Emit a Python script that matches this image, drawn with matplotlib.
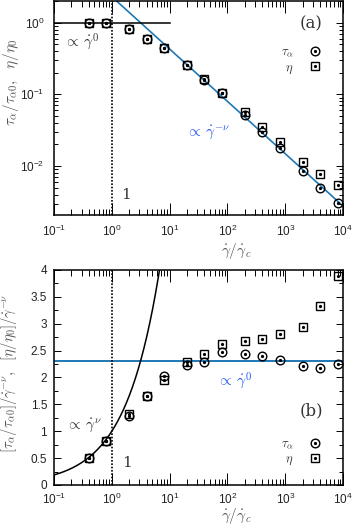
import numpy as np
import matplotlib
matplotlib.use("Agg")
import matplotlib.pyplot as plt
from matplotlib.ticker import LogLocator, MultipleLocator, NullFormatter

plt.rcParams['font.family'] = ['Liberation Sans', 'DejaVu Sans']
plt.rcParams['mathtext.fontset'] = 'custom'
plt.rcParams['mathtext.rm'] = 'Liberation Sans'
plt.rcParams['mathtext.it'] = 'Liberation Sans:italic'

# ---------------- data ----------------
rate = [0.4, 0.8, 2, 4, 8, 20, 40, 80, 200, 400, 800, 2000, 4000, 8000]
tau_a = [1.0, 1.0, 0.81, 0.60, 0.44, 0.257, 0.158, 0.103, 0.051, 0.030, 0.018, 0.0086, 0.0050, 0.0031]
eta_a = [1.0, 1.0, 0.81, 0.60, 0.44, 0.257, 0.162, 0.106, 0.057, 0.035, 0.0217, 0.0114, 0.0077, 0.0055]
tau_b = [0.50, 0.825, 1.28, 1.66, 2.02, 2.23, 2.29, 2.48, 2.44, 2.39, 2.33, 2.22, 2.17, 2.245]
eta_b = [0.50, 0.825, 1.32, 1.66, 1.95, 2.29, 2.44, 2.62, 2.67, 2.71, 2.80, 2.93, 3.33, 3.89]
nu = 0.73
amp = 2.3
x_line = np.logspace(-1, 4, 200)

BLUE = '#1f78b4'
LBLUE = '#2255ee'
GRAY = '#555555'
DARK = '#333333'

fig = plt.figure(figsize=(3.53, 5.26), dpi=100)
axA = fig.add_axes([0.153, 0.591, 0.819, 0.407])
axB = fig.add_axes([0.153, 0.078, 0.819, 0.409])

mk = dict(ls='none', color='k', mfc='none', mew=1.0)


def draw_points(ax, y1, y2):
    c, = ax.plot(rate, y1, marker='o', ms=6.2, **mk)
    s, = ax.plot(rate, y2, marker='s', ms=6.2, **mk)
    d1, = ax.plot(rate, y1, ls='none', marker='o', ms=1.3, color='k')
    d2, = ax.plot(rate, y2, ls='none', marker='o', ms=1.3, color='k')
    return (c, d1), (s, d2)


def style(ax, label_y, xpad):
    ax.set_xscale('log')
    ax.set_xlim(0.1, 1e4)
    ax.xaxis.set_major_locator(LogLocator(base=10, numticks=10))
    ax.xaxis.set_minor_locator(LogLocator(base=10, subs=np.arange(2, 10), numticks=20))
    ax.xaxis.set_minor_formatter(NullFormatter())
    ax.tick_params(axis='x', which='major', direction='in', top=True, length=8.5, width=0.7,
                   labelsize=8.5, pad=xpad, labelcolor='#222222')
    ax.tick_params(axis='x', which='minor', direction='in', top=True, length=4.3, width=0.7)
    ax.tick_params(axis='y', which='major', direction='in', right=True, length=5, width=0.7,
                   labelsize=8.5, labelcolor='#222222')
    ax.tick_params(axis='y', which='minor', direction='in', right=True, length=3, width=0.7)
    for sp in ax.spines.values():
        sp.set_linewidth(1.1)
    ax.axvline(1.0, color='k', ls=(0, (1, 1)), lw=1.2)
    ax.set_xlabel(r'$\dot{\gamma}/\dot{\gamma}_c$', fontsize=11, color=GRAY,
                  math_fontfamily='cm')
    ax.xaxis.set_label_coords(0.63, label_y)


# ---------------- panel (a) ----------------
style(axA, -0.12, 6)
axA.set_yscale('log')
axA.set_ylim(0.00207, 2.0)
axA.yaxis.set_minor_formatter(NullFormatter())
axA.tick_params(axis='y', which='major', pad=7)
axA.plot(x_line, amp * x_line ** (-nu), color=BLUE, lw=1.2, zorder=1)
axA.plot([0.1, 10], [1.0, 1.0], color='k', lw=1.1, zorder=1)
hA1, hA2 = draw_points(axA, tau_a, eta_a)
axA.set_ylabel(r'$\tau_\alpha/\tau_{\alpha 0},\ \ \eta/\eta_0$', fontsize=11, color=GRAY,
               math_fontfamily='cm')
axA.yaxis.set_label_coords(-0.115, 0.62)
axA.text(0.15, 0.47, r'$\propto\,\dot{\gamma}^0$', fontsize=11, color=DARK,
         math_fontfamily='cm')
axA.text(19, 0.026, r'$\propto\,\dot{\gamma}^{-\nu}$', fontsize=11, color=LBLUE,
         math_fontfamily='cm')
axA.text(1.45, 0.0035, '1', fontsize=11, color=DARK, family='DejaVu Serif')
axA.text(0.93, 0.935, '(a)', transform=axA.transAxes, fontsize=12, color=DARK,
         ha='right', va='top', family='DejaVu Serif')
legA = axA.legend([hA1, hA2], [r'$\tau_\alpha$', r'$\eta$'], loc='center right',
                  bbox_to_anchor=(0.945, 0.72), frameon=False, markerfirst=False,
                  handlelength=1.0, handletextpad=1.2, labelspacing=0.2, fontsize=9,
                  borderpad=0)
for t in legA.get_texts():
    t.set_math_fontfamily('cm')
    t.set_color(DARK)

# ---------------- panel (b) ----------------
style(axB, -0.1, 5)
axB.set_ylim(0, 4)
axB.yaxis.set_major_locator(MultipleLocator(0.5))
axB.yaxis.set_minor_locator(MultipleLocator(0.25))
axB.yaxis.set_major_formatter(matplotlib.ticker.FuncFormatter(lambda v, p: f'{v:g}'))
axB.tick_params(axis='y', which='major', pad=5)
axB.axhline(amp, color=BLUE, lw=1.4, zorder=1)
axB.plot(x_line, x_line ** nu, color='k', lw=1.1, zorder=1)
hB1, hB2 = draw_points(axB, tau_b, eta_b)
axB.set_ylabel(r'$[\tau_\alpha/\tau_{\alpha 0}]/\dot{\gamma}^{-\nu},\ \ [\eta/\eta_0]/\dot{\gamma}^{-\nu}$',
               fontsize=10.5, color=GRAY, math_fontfamily='cm')
axB.yaxis.set_label_coords(-0.12, 0.52)
axB.text(0.16, 1.03, r'$\propto\,\dot{\gamma}^{\nu}$', fontsize=11, color=DARK,
         math_fontfamily='cm')
axB.text(66, 1.85, r'$\propto\,\dot{\gamma}^{0}$', fontsize=11, color=LBLUE,
         math_fontfamily='cm')
axB.text(1.5, 0.33, '1', fontsize=11, color=DARK, family='DejaVu Serif')
axB.text(0.93, 0.385, '(b)', transform=axB.transAxes, fontsize=12, color=DARK,
         ha='right', va='top', family='DejaVu Serif')
legB = axB.legend([hB1, hB2], [r'$\tau_\alpha$', r'$\eta$'], loc='center right',
                  bbox_to_anchor=(0.945, 0.15), frameon=False, markerfirst=False,
                  handlelength=1.0, handletextpad=1.2, labelspacing=0.2, fontsize=9,
                  borderpad=0)
for t in legB.get_texts():
    t.set_math_fontfamily('cm')
    t.set_color(DARK)

fig.savefig('out.png', dpi=100)
